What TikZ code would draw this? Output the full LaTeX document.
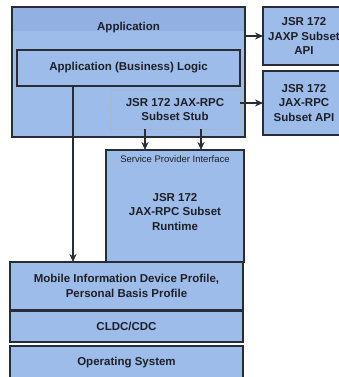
\documentclass[tikz,border=0pt]{standalone}
\usepackage{fontspec}
\setmainfont{Liberation Sans}
\usetikzlibrary{arrows.meta,calc}
\definecolor{boxfill}{RGB}{157,188,234}
\definecolor{boxdark}{RGB}{146,177,226}
\definecolor{edge}{RGB}{40,44,52}
\definecolor{txt}{RGB}{30,32,38}
\begin{document}
\begin{tikzpicture}[x=1pt,y=-1pt,
  box/.style={draw=edge,fill=boxfill,line width=1.3pt,inner sep=0pt,outer sep=0pt,
    font=\fontsize{11.5}{14.5}\selectfont\bfseries,text=txt,align=center},
  arr/.style={draw=edge,line width=1.1pt,-{Stealth[length=8pt,width=7pt]}},
  lbl/.style={font=\fontsize{11.5}{14.5}\selectfont\bfseries,text=txt,align=center,inner sep=0pt},
  small/.style={font=\fontsize{9.5}{11}\selectfont,text=txt,inner sep=0pt}]
\useasboundingbox (0,0) rectangle (339,377);
\clip (0,0) rectangle (339,377);
\fill[white] (0,0) rectangle (339,377);
% application
\node[box,minimum width=233pt,minimum height=130pt] (app) at (128.5,72) {};
\fill[boxdark] ($(app.north west)+(0.7,0.7)$) rectangle ($(app.north east)+(-0.7,24)$);
\node[lbl] (apptitle) at (128.5,28) {Application};
\node[box,minimum width=223pt,minimum height=36pt] (logic) at (128.5,68) {Application (Business) Logic};
\node[box,draw=none,minimum width=130pt,minimum height=39pt] (stub) at (175,109.5) {JSR 172 JAX-RPC\\Subset Stub};
\draw[gray!60,line width=0.9pt,densely dotted] (stub.north west) rectangle (stub.south east);
% right boxes
\node[box,minimum width=82pt,minimum height=58pt] (jaxp) at (304,36) {JSR 172\\JAXP Subset\\API};
\node[box,minimum width=82pt,minimum height=64pt] (jaxrpc) at (304,103) {JSR 172\\JAX-RPC\\Subset API};
% SPI
\node[box,minimum width=138pt,minimum height=112pt] (spi) at (175,206) {};
\node[small] (spititle) at (175,159) {Service Provider Interface};
\node[lbl] (runtime) at (175,212) {JSR 172\\JAX-RPC Subset\\Runtime};
% stack
\node[box,minimum width=233pt,minimum height=48pt] (midp) at (126.5,286) {Mobile Information Device Profile,\\Personal Basis Profile};
\node[box,minimum width=233pt,minimum height=31pt] (cldc) at (126.5,326.5) {CLDC/CDC};
\node[box,minimum width=233pt,minimum height=34pt] (os) at (126.5,363) {Operating System};
% connectors
\draw[arr] (app.east |- jaxp.west) -- (jaxp.west);
\draw[arr] (stub.east |- jaxrpc.west) -- (jaxrpc.west);
\draw[arr] ([xshift=-55.5pt]logic.south) -- ([xshift=-55.5pt]logic.south |- midp.north);
\draw[arr] ([xshift=-30pt]stub.south) -- ([xshift=-30pt]stub.south |- spi.north);
\draw[arr] ([xshift=26pt]stub.south) -- ([xshift=26pt]stub.south |- spi.north);
\end{tikzpicture}
\end{document}
